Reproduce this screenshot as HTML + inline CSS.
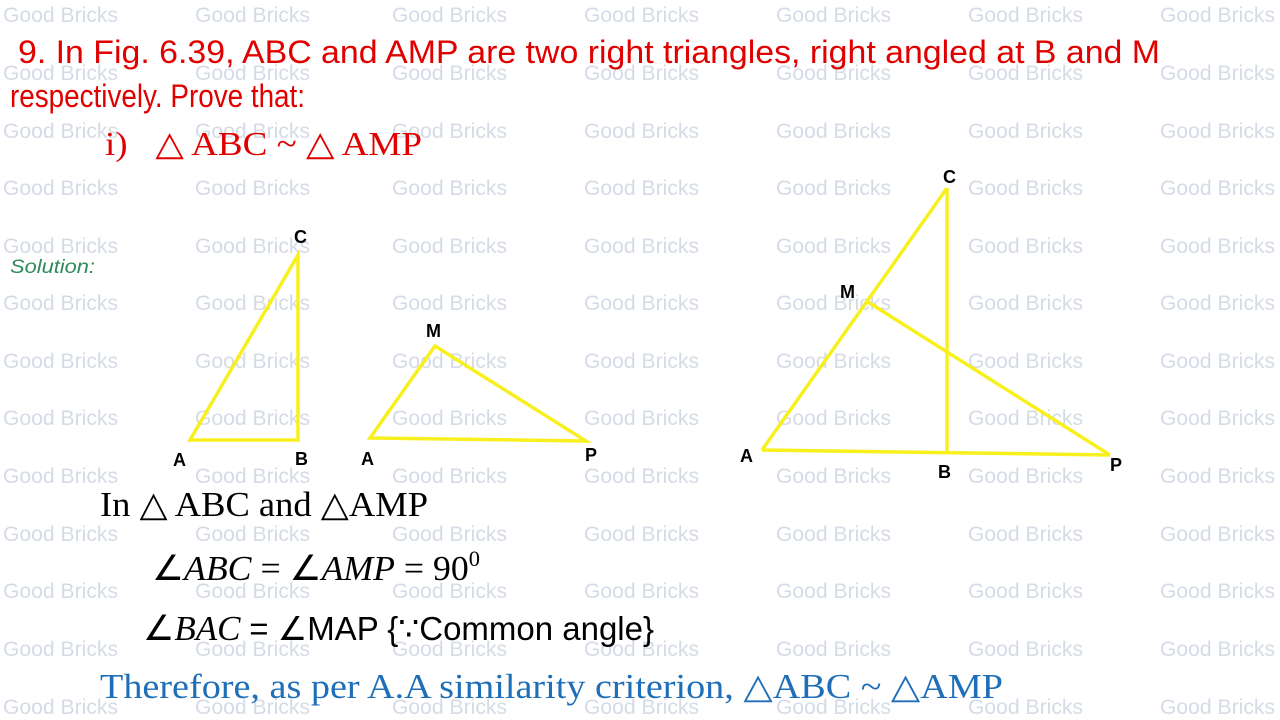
<!DOCTYPE html>
<html><head><meta charset="utf-8"><style>
html,body{margin:0;padding:0;background:#fff;}
svg{display:block;}
.wm{font-family:"Liberation Sans",sans-serif;font-size:21px;fill:#d5dbe6;}
.lb{font-family:"Liberation Sans",sans-serif;font-weight:bold;font-size:18px;fill:#000;}
</style></head><body>
<svg width="1280" height="720" viewBox="0 0 1280 720" xmlns="http://www.w3.org/2000/svg">
<g class="wm" lengthAdjust="spacingAndGlyphs">
<text x="3" y="22" textLength="115" lengthAdjust="spacingAndGlyphs">Good Bricks</text><text x="195" y="22" textLength="115" lengthAdjust="spacingAndGlyphs">Good Bricks</text><text x="392" y="22" textLength="115" lengthAdjust="spacingAndGlyphs">Good Bricks</text><text x="584" y="22" textLength="115" lengthAdjust="spacingAndGlyphs">Good Bricks</text><text x="776" y="22" textLength="115" lengthAdjust="spacingAndGlyphs">Good Bricks</text><text x="968" y="22" textLength="115" lengthAdjust="spacingAndGlyphs">Good Bricks</text><text x="1160" y="22" textLength="115" lengthAdjust="spacingAndGlyphs">Good Bricks</text>
<text x="3" y="80" textLength="115" lengthAdjust="spacingAndGlyphs">Good Bricks</text><text x="195" y="80" textLength="115" lengthAdjust="spacingAndGlyphs">Good Bricks</text><text x="392" y="80" textLength="115" lengthAdjust="spacingAndGlyphs">Good Bricks</text><text x="584" y="80" textLength="115" lengthAdjust="spacingAndGlyphs">Good Bricks</text><text x="776" y="80" textLength="115" lengthAdjust="spacingAndGlyphs">Good Bricks</text><text x="968" y="80" textLength="115" lengthAdjust="spacingAndGlyphs">Good Bricks</text><text x="1160" y="80" textLength="115" lengthAdjust="spacingAndGlyphs">Good Bricks</text>
<text x="3" y="138" textLength="115" lengthAdjust="spacingAndGlyphs">Good Bricks</text><text x="195" y="138" textLength="115" lengthAdjust="spacingAndGlyphs">Good Bricks</text><text x="392" y="138" textLength="115" lengthAdjust="spacingAndGlyphs">Good Bricks</text><text x="584" y="138" textLength="115" lengthAdjust="spacingAndGlyphs">Good Bricks</text><text x="776" y="138" textLength="115" lengthAdjust="spacingAndGlyphs">Good Bricks</text><text x="968" y="138" textLength="115" lengthAdjust="spacingAndGlyphs">Good Bricks</text><text x="1160" y="138" textLength="115" lengthAdjust="spacingAndGlyphs">Good Bricks</text>
<text x="3" y="195" textLength="115" lengthAdjust="spacingAndGlyphs">Good Bricks</text><text x="195" y="195" textLength="115" lengthAdjust="spacingAndGlyphs">Good Bricks</text><text x="392" y="195" textLength="115" lengthAdjust="spacingAndGlyphs">Good Bricks</text><text x="584" y="195" textLength="115" lengthAdjust="spacingAndGlyphs">Good Bricks</text><text x="776" y="195" textLength="115" lengthAdjust="spacingAndGlyphs">Good Bricks</text><text x="968" y="195" textLength="115" lengthAdjust="spacingAndGlyphs">Good Bricks</text><text x="1160" y="195" textLength="115" lengthAdjust="spacingAndGlyphs">Good Bricks</text>
<text x="3" y="253" textLength="115" lengthAdjust="spacingAndGlyphs">Good Bricks</text><text x="195" y="253" textLength="115" lengthAdjust="spacingAndGlyphs">Good Bricks</text><text x="392" y="253" textLength="115" lengthAdjust="spacingAndGlyphs">Good Bricks</text><text x="584" y="253" textLength="115" lengthAdjust="spacingAndGlyphs">Good Bricks</text><text x="776" y="253" textLength="115" lengthAdjust="spacingAndGlyphs">Good Bricks</text><text x="968" y="253" textLength="115" lengthAdjust="spacingAndGlyphs">Good Bricks</text><text x="1160" y="253" textLength="115" lengthAdjust="spacingAndGlyphs">Good Bricks</text>
<text x="3" y="310" textLength="115" lengthAdjust="spacingAndGlyphs">Good Bricks</text><text x="195" y="310" textLength="115" lengthAdjust="spacingAndGlyphs">Good Bricks</text><text x="392" y="310" textLength="115" lengthAdjust="spacingAndGlyphs">Good Bricks</text><text x="584" y="310" textLength="115" lengthAdjust="spacingAndGlyphs">Good Bricks</text><text x="776" y="310" textLength="115" lengthAdjust="spacingAndGlyphs">Good Bricks</text><text x="968" y="310" textLength="115" lengthAdjust="spacingAndGlyphs">Good Bricks</text><text x="1160" y="310" textLength="115" lengthAdjust="spacingAndGlyphs">Good Bricks</text>
<text x="3" y="368" textLength="115" lengthAdjust="spacingAndGlyphs">Good Bricks</text><text x="195" y="368" textLength="115" lengthAdjust="spacingAndGlyphs">Good Bricks</text><text x="392" y="368" textLength="115" lengthAdjust="spacingAndGlyphs">Good Bricks</text><text x="584" y="368" textLength="115" lengthAdjust="spacingAndGlyphs">Good Bricks</text><text x="776" y="368" textLength="115" lengthAdjust="spacingAndGlyphs">Good Bricks</text><text x="968" y="368" textLength="115" lengthAdjust="spacingAndGlyphs">Good Bricks</text><text x="1160" y="368" textLength="115" lengthAdjust="spacingAndGlyphs">Good Bricks</text>
<text x="3" y="425" textLength="115" lengthAdjust="spacingAndGlyphs">Good Bricks</text><text x="195" y="425" textLength="115" lengthAdjust="spacingAndGlyphs">Good Bricks</text><text x="392" y="425" textLength="115" lengthAdjust="spacingAndGlyphs">Good Bricks</text><text x="584" y="425" textLength="115" lengthAdjust="spacingAndGlyphs">Good Bricks</text><text x="776" y="425" textLength="115" lengthAdjust="spacingAndGlyphs">Good Bricks</text><text x="968" y="425" textLength="115" lengthAdjust="spacingAndGlyphs">Good Bricks</text><text x="1160" y="425" textLength="115" lengthAdjust="spacingAndGlyphs">Good Bricks</text>
<text x="3" y="483" textLength="115" lengthAdjust="spacingAndGlyphs">Good Bricks</text><text x="195" y="483" textLength="115" lengthAdjust="spacingAndGlyphs">Good Bricks</text><text x="392" y="483" textLength="115" lengthAdjust="spacingAndGlyphs">Good Bricks</text><text x="584" y="483" textLength="115" lengthAdjust="spacingAndGlyphs">Good Bricks</text><text x="776" y="483" textLength="115" lengthAdjust="spacingAndGlyphs">Good Bricks</text><text x="968" y="483" textLength="115" lengthAdjust="spacingAndGlyphs">Good Bricks</text><text x="1160" y="483" textLength="115" lengthAdjust="spacingAndGlyphs">Good Bricks</text>
<text x="3" y="541" textLength="115" lengthAdjust="spacingAndGlyphs">Good Bricks</text><text x="195" y="541" textLength="115" lengthAdjust="spacingAndGlyphs">Good Bricks</text><text x="392" y="541" textLength="115" lengthAdjust="spacingAndGlyphs">Good Bricks</text><text x="584" y="541" textLength="115" lengthAdjust="spacingAndGlyphs">Good Bricks</text><text x="776" y="541" textLength="115" lengthAdjust="spacingAndGlyphs">Good Bricks</text><text x="968" y="541" textLength="115" lengthAdjust="spacingAndGlyphs">Good Bricks</text><text x="1160" y="541" textLength="115" lengthAdjust="spacingAndGlyphs">Good Bricks</text>
<text x="3" y="598" textLength="115" lengthAdjust="spacingAndGlyphs">Good Bricks</text><text x="195" y="598" textLength="115" lengthAdjust="spacingAndGlyphs">Good Bricks</text><text x="392" y="598" textLength="115" lengthAdjust="spacingAndGlyphs">Good Bricks</text><text x="584" y="598" textLength="115" lengthAdjust="spacingAndGlyphs">Good Bricks</text><text x="776" y="598" textLength="115" lengthAdjust="spacingAndGlyphs">Good Bricks</text><text x="968" y="598" textLength="115" lengthAdjust="spacingAndGlyphs">Good Bricks</text><text x="1160" y="598" textLength="115" lengthAdjust="spacingAndGlyphs">Good Bricks</text>
<text x="3" y="656" textLength="115" lengthAdjust="spacingAndGlyphs">Good Bricks</text><text x="195" y="656" textLength="115" lengthAdjust="spacingAndGlyphs">Good Bricks</text><text x="392" y="656" textLength="115" lengthAdjust="spacingAndGlyphs">Good Bricks</text><text x="584" y="656" textLength="115" lengthAdjust="spacingAndGlyphs">Good Bricks</text><text x="776" y="656" textLength="115" lengthAdjust="spacingAndGlyphs">Good Bricks</text><text x="968" y="656" textLength="115" lengthAdjust="spacingAndGlyphs">Good Bricks</text><text x="1160" y="656" textLength="115" lengthAdjust="spacingAndGlyphs">Good Bricks</text>
<text x="3" y="714" textLength="115" lengthAdjust="spacingAndGlyphs">Good Bricks</text><text x="195" y="714" textLength="115" lengthAdjust="spacingAndGlyphs">Good Bricks</text><text x="392" y="714" textLength="115" lengthAdjust="spacingAndGlyphs">Good Bricks</text><text x="584" y="714" textLength="115" lengthAdjust="spacingAndGlyphs">Good Bricks</text><text x="776" y="714" textLength="115" lengthAdjust="spacingAndGlyphs">Good Bricks</text><text x="968" y="714" textLength="115" lengthAdjust="spacingAndGlyphs">Good Bricks</text><text x="1160" y="714" textLength="115" lengthAdjust="spacingAndGlyphs">Good Bricks</text>
</g>

<g font-family="Liberation Sans, sans-serif" fill="#e00000">
<text x="18" y="63" font-size="32" textLength="1142" lengthAdjust="spacingAndGlyphs">9. In Fig. 6.39, ABC and AMP are two right triangles, right angled at B and M</text>
<text x="10" y="107" font-size="32" textLength="295" lengthAdjust="spacingAndGlyphs">respectively. Prove that:</text>
</g>
<text x="105" y="155" font-family="Liberation Serif, serif" font-size="34" fill="#e00000" textLength="317" lengthAdjust="spacingAndGlyphs" xml:space="preserve">i)   △ ABC ~ △ AMP</text>
<text x="10" y="273" font-family="Liberation Sans, sans-serif" font-style="italic" font-size="19" fill="#2e8b57" textLength="85" lengthAdjust="spacingAndGlyphs">Solution:</text>

<g fill="none" stroke="#f8f01e" stroke-width="3.5" stroke-linejoin="miter">
<polygon points="190,440 298,440 298,255"/>
<polygon points="370,438 435,346 586,441"/>
<polyline points="762,450 947,188"/>
<line x1="947" y1="188" x2="947" y2="452"/>
<line x1="762" y1="450" x2="1110" y2="455"/>
<line x1="868" y1="302" x2="1110" y2="455"/>
</g>
<g class="lb">
<text x="294" y="243">C</text><text x="173" y="466">A</text><text x="295" y="465">B</text>
<text x="426" y="337">M</text><text x="361" y="465">A</text><text x="585" y="461">P</text>
<text x="943" y="183">C</text><text x="840" y="298">M</text><text x="740" y="462">A</text><text x="938" y="478">B</text><text x="1110" y="471">P</text>
</g>

<text x="100" y="516" font-family="Liberation Serif, serif" font-size="35" fill="#000" textLength="328" lengthAdjust="spacingAndGlyphs">In △ ABC and △AMP</text>
<text x="152" y="580" font-family="Liberation Serif, serif" font-size="35" fill="#000" textLength="328" lengthAdjust="spacingAndGlyphs">∠<tspan font-style="italic">ABC</tspan> = ∠<tspan font-style="italic">AMP</tspan> = 90<tspan dy="-14" font-size="22">0</tspan></text>
<text x="143" y="640" font-family="Liberation Serif, serif" font-size="35" fill="#000" textLength="511" lengthAdjust="spacingAndGlyphs">∠<tspan font-style="italic">BAC</tspan> <tspan font-family="Liberation Sans, sans-serif" font-size="33">= ∠MAP {∵Common angle}</tspan></text>
<text x="100" y="698" font-family="Liberation Serif, serif" font-size="35" fill="#1f6fb8" textLength="903" lengthAdjust="spacingAndGlyphs">Therefore, as per A.A similarity criterion, △ABC ~ △AMP</text>
</svg>
</body></html>
